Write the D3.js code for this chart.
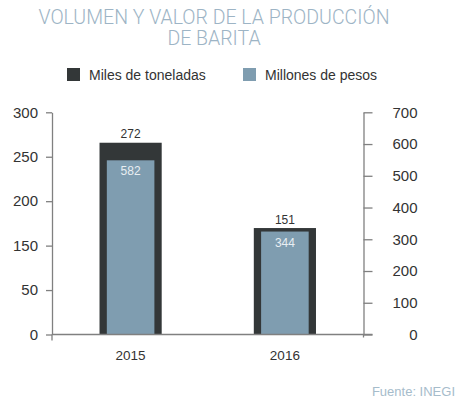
<!DOCTYPE html>
<html><head><meta charset="utf-8">
<script src="https://cdn.jsdelivr.net/npm/d3@7"></script>
<style>
html,body{margin:0;padding:0;background:#fff;}
svg{display:block;font-family:"Liberation Sans",Arial,sans-serif;}
</style></head>
<body><svg id="c" width="463" height="408"></svg>
<script>
const years = ["2015", "2016"];
const tons = [272, 151];          // Miles de toneladas
const pesos = [582, 344];         // Millones de pesos
const leftTickLabels = ["0", "50", "150", "200", "250", "300"];
const rightTicks = [0, 100, 200, 300, 400, 500, 600, 700];
const seriesNames = ["Miles de toneladas", "Millones de pesos"];
const titleLines = ["VOLUMEN Y VALOR DE LA PRODUCCIÓN", "DE BARITA"];
const source = "Fuente: INEGI";

const dark = "#333738", blue = "#7f9db0", axisCol = "#808080", txt = "#333";
const svg = d3.select("#c");
const L = 52, R = 363.5, T = 112.3, B = 334.5;

// title
svg.append("g").selectAll("text").data(titleLines).join("text")
  .attr("x", 214).attr("y", (d, i) => 23.5 + i * 21)
  .attr("text-anchor", "middle").attr("fill", "#9db4c5")
  .style("font-family", "Roboto, 'Liberation Sans', sans-serif").style("font-weight", 300)
  .style("font-size", "19.5px").text(d => d);

// legend
const lg = svg.append("g");
const lx = [67, 243];
lg.selectAll("rect").data(seriesNames).join("rect")
  .attr("x", (d, i) => lx[i]).attr("y", 68).attr("width", 13).attr("height", 13)
  .attr("fill", (d, i) => i ? blue : dark);
lg.selectAll("text").data(seriesNames).join("text")
  .attr("x", (d, i) => lx[i] + 22).attr("y", 79.5)
  .attr("fill", txt).style("font-size", "14px").text(d => d);

// scales
const x = d3.scaleBand().domain(years).range([L, R]).paddingInner(0.597).paddingOuter(0.308);
const yLAxis = d3.scalePoint().domain(leftTickLabels).range([B, T]);
const yR = d3.scaleLinear().domain([0, 700]).range([B, T]);
const yTons = d3.scaleLinear().domain([0, 300]).range([B, 123]);
const yPesos = d3.scaleLinear().domain([0, 700]).range([B, 125]);

// bars
const inset = 7.3;
svg.append("g").selectAll("rect").data(years).join("rect")
  .attr("x", d => x(d)).attr("width", x.bandwidth())
  .attr("y", (d, i) => yTons(tons[i])).attr("height", (d, i) => B - yTons(tons[i]))
  .attr("fill", dark);
svg.append("g").selectAll("rect").data(years).join("rect")
  .attr("x", d => x(d) + inset).attr("width", x.bandwidth() - 2 * inset)
  .attr("y", (d, i) => yPesos(pesos[i])).attr("height", (d, i) => B - yPesos(pesos[i]))
  .attr("fill", blue);

// value labels
svg.append("g").selectAll("text").data(years).join("text")
  .attr("x", d => x(d) + x.bandwidth() / 2).attr("y", (d, i) => yTons(tons[i]) - 4.5)
  .attr("text-anchor", "middle").attr("fill", txt).style("font-size", "12px")
  .text((d, i) => tons[i]);
svg.append("g").selectAll("text").data(years).join("text")
  .attr("x", d => x(d) + x.bandwidth() / 2).attr("y", (d, i) => yPesos(pesos[i]) + 15)
  .attr("text-anchor", "middle").attr("fill", "#e8eef2").style("font-size", "12px")
  .text((d, i) => pesos[i]);

// baseline
svg.append("line").attr("x1", L).attr("x2", R + 9).attr("y1", B).attr("y2", B)
  .attr("stroke", axisCol).attr("stroke-width", 1.3);

// left axis
const ga = svg.append("g").attr("transform", `translate(${L},0)`)
  .call(d3.axisLeft(yLAxis).tickSize(6).tickSizeOuter(0).tickPadding(8));
ga.append("line").attr("y1", B).attr("y2", B + 6).attr("stroke", axisCol).attr("stroke-width", 1.3);

// right axis
const gr = svg.append("g").attr("transform", `translate(${R},0)`)
  .call(d3.axisRight(yR).tickValues(rightTicks).tickSize(9).tickSizeOuter(0).tickFormat(d3.format("d")));
gr.selectAll(".tick text").attr("x", 54).attr("text-anchor", "end");
gr.append("line").attr("y1", B).attr("y2", B + 3).attr("stroke", axisCol).attr("stroke-width", 1.3);

[ga, gr].forEach(g => {
  g.select(".domain").attr("stroke", axisCol).attr("stroke-width", 1.3);
  g.selectAll(".tick line").attr("stroke", axisCol).attr("stroke-width", 1.3);
  g.selectAll(".tick text").attr("fill", txt).style("font-size", "15px")
    .style("font-family", "'Liberation Sans', Arial, sans-serif");
});

// x labels
svg.append("g").selectAll("text").data(years).join("text")
  .attr("x", d => x(d) + x.bandwidth() / 2).attr("y", 360)
  .attr("text-anchor", "middle").attr("fill", txt).style("font-size", "13.5px").text(d => d);

// source
svg.append("text").attr("x", 455).attr("y", 396).attr("text-anchor", "end")
  .attr("fill", "#a6bccb").style("font-size", "13px").text(source);
</script></body></html>
